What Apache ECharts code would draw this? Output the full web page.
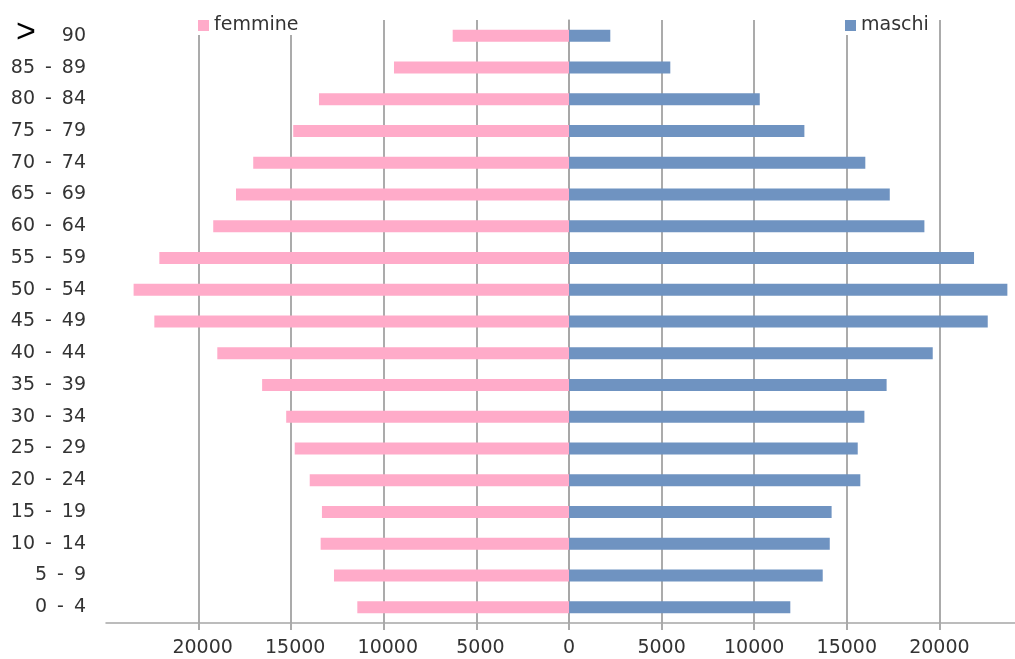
<!DOCTYPE html>
<html>
<head>
<meta charset="utf-8">
<title>Piramide delle età</title>
<script src="https://cdn.jsdelivr.net/npm/echarts@6/dist/echarts.min.js"></script>
<style>
  html, body { margin: 0; padding: 0; background: #fff; }
  #chart { width: 1015px; height: 659px; }
</style>
</head>
<body>
<div id="chart"></div>
<script>
// Age classes, bottom to top
const categories = ['0 - 4', '5 - 9', '10 - 14', '15 - 19', '20 - 24', '25 - 29', '30 - 34',
  '35 - 39', '40 - 44', '45 - 49', '50 - 54', '55 - 59', '60 - 64', '65 - 69', '70 - 74',
  '75 - 79', '80 - 84', '85 - 89', '> 90'];

// Population per age class
const femmine = [11430, 12690, 13410, 13340, 14000, 14810, 15270, 16570, 18990, 22390,
  23510, 22120, 19210, 17980, 17050, 14890, 13500, 9450, 6280];
const maschi = [11950, 13700, 14080, 14180, 15730, 15590, 15950, 17150, 19640, 22610,
  23670, 21870, 19190, 17320, 16000, 12710, 10300, 5470, 2230];

// Tick values on the population axis
const tickValues = [-20000, -15000, -10000, -5000, 0, 5000, 10000, 15000, 20000];

const FONT = 'DejaVu Sans';
const TEXT = '#333';
const GRID = '#ababab';

const chart = echarts.init(document.getElementById('chart'), null, { renderer: 'canvas' });

const legendBase = {
  top: 12,
  padding: [4, 3, 0, 3],
  itemWidth: 11,
  itemHeight: 11,
  icon: 'rect',
  backgroundColor: '#fff',
  textStyle: { fontFamily: FONT, fontSize: 19, color: TEXT },
  selectedMode: false
};

// Age-class label: wider spacing around the dash, big chevron for the open class
function ageLabel(v) {
  if (v.indexOf('>') === 0) {
    return '{gt|>}{n|' + v.replace('>', '').trim() + '}';
  }
  const parts = v.split(' - ');
  return parts[0] + '{d|-}' + parts[1];
}

chart.setOption({
  animation: false,
  backgroundColor: '#fff',
  legend: [
    Object.assign({ data: ['femmine'], left: 195 }, legendBase),
    Object.assign({ data: ['maschi'], left: 842 }, legendBase)
  ],
  // the plot runs a little past the right edge of the canvas
  grid: {
    left: 106, width: 926, top: 20, bottom: 36,
    containLabel: false, outerBoundsMode: 'none'
  },
  xAxis: {
    type: 'value',
    min: -25000,
    max: 25000,
    interval: 5000,
    axisLine: { show: true, lineStyle: { color: '#a6a6a6', width: 1.5 } },
    axisTick: {
      show: true, length: 7, customValues: tickValues,
      lineStyle: { color: GRID, width: 2 }
    },
    splitLine: { show: true, lineStyle: { color: GRID, width: 2 } },
    axisLabel: {
      customValues: tickValues,
      margin: 16,
      fontFamily: FONT,
      fontSize: 19,
      color: TEXT,
      formatter: v => v < 0 ? '{l|' + Math.abs(v) + '}' : String(v),
      rich: {
        l: { fontFamily: FONT, fontSize: 19, color: TEXT, padding: [0, 0, 0, 8] }
      }
    }
  },
  yAxis: {
    type: 'category',
    data: categories,
    axisLine: { show: true, lineStyle: { color: '#a6a6a6', width: 1.5 } },
    axisTick: { show: false },
    splitLine: { show: false },
    axisLabel: {
      margin: 20,
      fontFamily: FONT,
      fontSize: 19,
      color: TEXT,
      formatter: ageLabel,
      rich: {
        d: { fontFamily: FONT, fontSize: 19, color: TEXT, padding: [0, 10, 0, 10] },
        gt: {
          fontFamily: 'Liberation Sans', fontSize: 34, color: '#000',
          verticalAlign: 'middle', padding: [0, 0, 6, 0]
        },
        n: {
          fontFamily: FONT, fontSize: 19, color: TEXT,
          verticalAlign: 'middle', padding: [0, 0, 0, 26]
        }
      }
    }
  },
  series: [
    {
      name: 'femmine',
      type: 'bar',
      data: femmine.map(v => -v),
      barWidth: 12,
      barGap: '-100%',
      itemStyle: { color: '#ffabc9' }
    },
    {
      name: 'maschi',
      type: 'bar',
      data: maschi,
      barWidth: 12,
      barGap: '-100%',
      itemStyle: { color: '#6f93c1' }
    }
  ]
});
</script>
</body>
</html>
